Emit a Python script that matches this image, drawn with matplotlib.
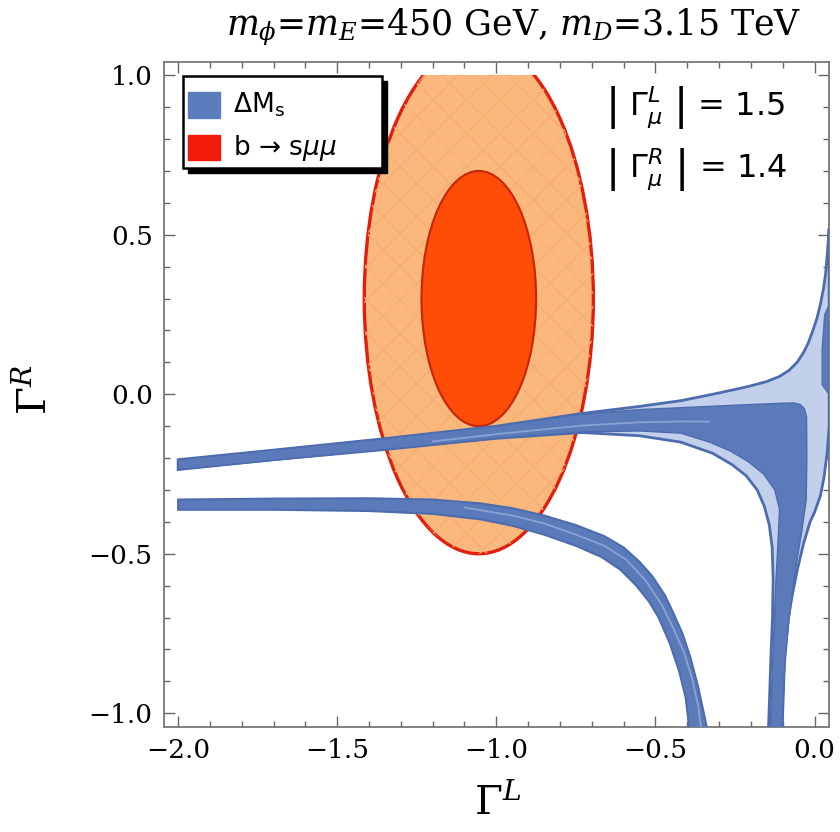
import numpy as np
import matplotlib.pyplot as plt
from matplotlib.patches import Ellipse, Polygon, Rectangle
from matplotlib.ticker import FuncFormatter

# b -> s mu mu fit in the (Gamma^L, Gamma^R) plane: 1 and 2 sigma ellipses
fit_center = (-1.055, 0.30)
fit_1sig = (0.18, 0.40)      # semi-axes (Gamma^L, Gamma^R)
fit_2sig = (0.36, 0.80)

# Delta M_s allowed region: upper branch, corner, spike and the descending branch
dms_top_x = [-2.0, -1.7, -1.36, -1.0, -0.73, -0.55, -0.42, -0.32, -0.21, -0.15, -0.11, -0.08,
             -0.055, -0.035, -0.02, -0.005, 0.008, 0.018, 0.028, 0.035, 0.041, 0.046]
dms_top_y = [-0.205, -0.175, -0.14, -0.10, -0.06, -0.038, -0.02, 0.0, 0.024, 0.04, 0.056, 0.075,
             0.100, 0.13, 0.16, 0.20, 0.24, 0.28, 0.33, 0.38, 0.45, 0.52]
dms_right_x = [0.046, 0.046, 0.040, 0.030, 0.018, 0.0, -0.014, -0.035, -0.054, -0.07, -0.083, -0.095, -0.102]
dms_right_y = [0.52, -0.10, -0.18, -0.26, -0.32, -0.37, -0.40, -0.47, -0.55, -0.63, -0.707, -0.85, -1.06]
dms_left_x = [-0.145, -0.138, -0.132, -0.13, -0.133, -0.142, -0.158, -0.18, -0.215, -0.26, -0.32,
              -0.42, -0.55, -0.73, -1.0, -1.36, -1.7, -2.0]
dms_left_y = [-1.06, -0.85, -0.70, -0.58, -0.48, -0.41, -0.35, -0.30, -0.255, -0.22, -0.185,
              -0.15, -0.13, -0.12, -0.138, -0.174, -0.205, -0.236]

# overlap of the two Delta M_s bands (darker core)
core_top_x = [-2.0, -1.36, -1.0, -0.73, -0.55, -0.42, -0.2, -0.1, -0.066, -0.045, -0.032, -0.025,
              -0.024, -0.026, -0.04, -0.06, -0.077, -0.092, -0.103]
core_top_y = [-0.205, -0.14, -0.10, -0.062, -0.048, -0.042, -0.032, -0.028, -0.027, -0.032, -0.045,
              -0.07, -0.2, -0.33, -0.43, -0.55, -0.68, -0.82, -1.06]
core_bot_x = [-0.14, -0.13, -0.122, -0.114, -0.11, -0.125, -0.16, -0.21, -0.264, -0.33, -0.42,
              -0.55, -0.73, -1.0, -1.36, -2.0]
core_bot_y = [-1.06, -0.80, -0.60, -0.45, -0.36, -0.30, -0.25, -0.21, -0.178, -0.15, -0.122,
              -0.115, -0.118, -0.138, -0.174, -0.236]
spike_x = [0.024, 0.046, 0.046, 0.032, 0.024]
spike_y = [0.03, 0.0, 0.28, 0.25, 0.14]

# lower Delta M_s branch
dms2_top_x = [-2.0, -1.7, -1.4, -1.2, -1.05, -0.95, -0.85, -0.75, -0.66, -0.60, -0.55, -0.51,
              -0.47, -0.443, -0.415, -0.39, -0.365, -0.335]
dms2_top_y = [-0.330, -0.327, -0.326, -0.330, -0.342, -0.357, -0.38, -0.41, -0.445, -0.48, -0.525,
              -0.57, -0.63, -0.687, -0.75, -0.825, -0.92, -1.06]
dms2_bot_x = [-2.0, -1.7, -1.4, -1.2, -1.05, -0.95, -0.85, -0.75, -0.67, -0.61, -0.56, -0.52,
              -0.49, -0.455, -0.425, -0.405, -0.392]
dms2_bot_y = [-0.362, -0.362, -0.366, -0.375, -0.392, -0.412, -0.44, -0.475, -0.51, -0.55, -0.60,
              -0.65, -0.70, -0.78, -0.87, -0.95, -1.06]

# lighter seams where the two Delta M_s bands separate
seam1_x = [-1.2, -1.0, -0.73, -0.55, -0.42, -0.33]
seam1_y = [-0.148, -0.125, -0.098, -0.088, -0.085, -0.086]
seam2_x = [-1.1, -0.95, -0.85, -0.75, -0.66, -0.59, -0.53, -0.48, -0.443, -0.41, -0.385, -0.365, -0.355]
seam2_y = [-0.355, -0.38, -0.405, -0.44, -0.475, -0.52, -0.585, -0.66, -0.735, -0.81, -0.89, -0.98, -1.06]

fig = plt.figure(figsize=(8.4, 8.32), dpi=100)
ax = fig.add_axes([0.195, 0.1266, 0.7917, 0.799])

clip = Rectangle((-2.0, -1.0), 2.05, 2.0, transform=ax.transData)
outer = Ellipse(fit_center, 2 * fit_2sig[0], 2 * fit_2sig[1], facecolor='#fbb87c',
                edgecolor='#e41e0c', lw=2.4, zorder=2)
mesh = Ellipse(fit_center, 2 * fit_2sig[0], 2 * fit_2sig[1], facecolor='none',
               edgecolor='#f6ae72', lw=0, hatch='x', zorder=2.5)
inner = Ellipse(fit_center, 2 * fit_1sig[0], 2 * fit_1sig[1], facecolor='#ff4c06',
                edgecolor='#c8280a', lw=1.6, zorder=3)
for e in (outer, mesh, inner):
    ax.add_patch(e)
    e.set_clip_path(clip)

light = '#c3d0eb'
dark = '#5b7aba'
edge = '#4d6cae'
seam = '#8aa3d4'

env = np.column_stack([dms_top_x + dms_right_x + dms_left_x,
                       dms_top_y + dms_right_y + dms_left_y])
ax.add_patch(Polygon(env, closed=True, facecolor=light, edgecolor=edge, lw=2.0, zorder=4))
core = np.column_stack([core_top_x + core_bot_x, core_top_y + core_bot_y])
ax.add_patch(Polygon(core, closed=True, facecolor=dark, edgecolor=edge, lw=1.0, zorder=5))
ax.add_patch(Polygon(np.column_stack([spike_x, spike_y]), closed=True,
                     facecolor=dark, edgecolor=edge, lw=1.0, zorder=5))

low = np.column_stack([dms2_top_x + dms2_bot_x[::-1], dms2_top_y + dms2_bot_y[::-1]])
ax.add_patch(Polygon(low, closed=True, facecolor=dark, edgecolor=edge, lw=1.5, zorder=4))

ax.plot(seam1_x, seam1_y, color=seam, lw=1.3, zorder=6, solid_capstyle='round')
ax.plot(seam2_x, seam2_y, color=seam, lw=1.3, zorder=6, solid_capstyle='round')

ax.set_xlim(-2.045, 0.045)
ax.set_ylim(-1.042, 1.042)

fmt = FuncFormatter(lambda v, p: ('%.1f' % (0.0 if abs(v) < 1e-9 else v)).replace('-', '\u2212'))
ax.set_xticks(np.arange(-2.0, 0.01, 0.5))
ax.set_yticks(np.arange(-1.0, 1.01, 0.5))
ax.set_xticks(np.arange(-2.0, 0.01, 0.1), minor=True)
ax.set_yticks(np.arange(-1.0, 1.01, 0.1), minor=True)
ax.xaxis.set_major_formatter(fmt)
ax.yaxis.set_major_formatter(fmt)
ax.tick_params(which='both', direction='in', top=True, right=True, color='#666666', width=1.0)
ax.tick_params(which='major', length=8, labelsize=19, pad=8)
ax.tick_params(which='minor', length=4.5)
for lab in ax.get_xticklabels() + ax.get_yticklabels():
    lab.set_family('DejaVu Serif')
for s in ax.spines.values():
    s.set_color('#777777')
    s.set_linewidth(1.3)

fig.text(0.612, 0.968, r'$m_\phi$=$m_E$=450 GeV, $m_D$=3.15 TeV', ha='center', va='center',
         fontsize=25, family='DejaVu Serif', math_fontfamily='dejavuserif')
fig.text(0.592, 0.035, r'$\Gamma^L$', ha='center', va='center', fontsize=29,
         math_fontfamily='dejavuserif')
fig.text(0.042, 0.531, r'$\Gamma^R$', ha='center', va='center', fontsize=29, rotation=90,
         math_fontfamily='dejavuserif')

# coupling values
ax.text(-0.66, 0.90, r'$\left|\ \Gamma_\mu^L\ \right|$ = 1.5', ha='left', va='center',
        fontsize=23, family='DejaVu Sans', math_fontfamily='dejavusans', zorder=6)
ax.text(-0.66, 0.705, r'$\left|\ \Gamma_\mu^R\ \right|$ = 1.4', ha='left', va='center',
        fontsize=23, family='DejaVu Sans', math_fontfamily='dejavusans', zorder=6)

# legend box with drop shadow
tr = ax.transAxes
ax.add_patch(Rectangle((0.0361, 0.8330), 0.2992, 0.1384, transform=tr, facecolor='black',
                       edgecolor='black', zorder=7))
ax.add_patch(Rectangle((0.0286, 0.8405), 0.2992, 0.1384, transform=tr, facecolor='white',
                       edgecolor='black', lw=1.8, zorder=8))
ax.add_patch(Rectangle((0.0361, 0.9158), 0.0481, 0.0391, transform=tr, facecolor='#5b7dbe',
                       edgecolor='#5b7dbe', zorder=9))
ax.add_patch(Rectangle((0.0361, 0.8524), 0.0481, 0.0376, transform=tr, facecolor='#f21a0a',
                       edgecolor='#f21a0a', zorder=9))
ax.text(0.1038, 0.9353, r'ΔM$_\mathregular{s}$', transform=tr, ha='left', va='center',
        fontsize=19, family='DejaVu Sans', zorder=10)
ax.text(0.1038, 0.8706, r'b → s$\mu\mu$', transform=tr, ha='left', va='center',
        fontsize=19, family='DejaVu Sans', math_fontfamily='dejavusans', zorder=10)

fig.savefig('out.png', dpi=100)
